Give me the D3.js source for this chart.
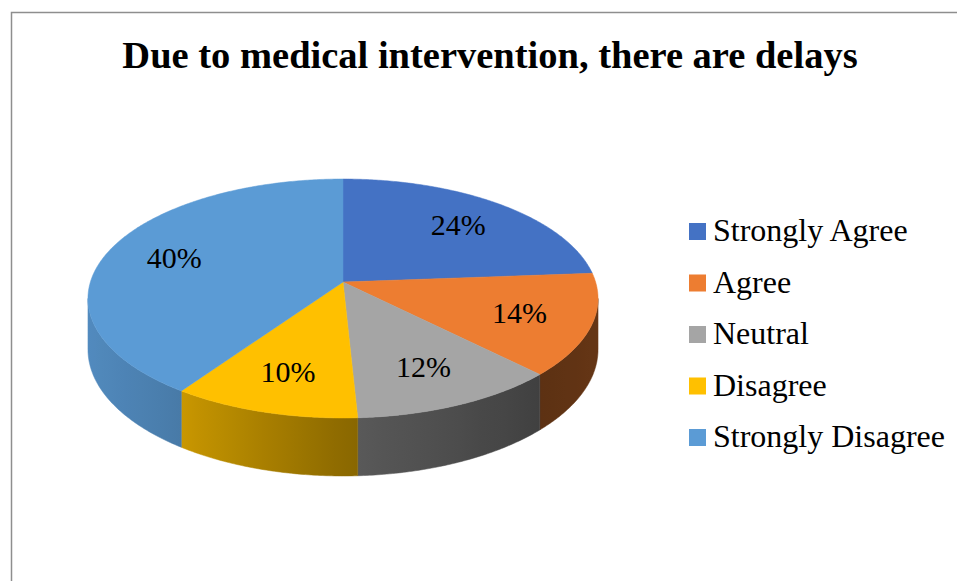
<!doctype html>
<html lang="en">
<head>
  <meta charset="utf-8">
  <title>Due to medical intervention, there are delays</title>
  <script src="https://d3js.org/d3.v7.min.js"></script>
  <style>
    body { margin: 0; background: #fff; }
    text { font-family: "Liberation Serif", "Times New Roman", serif; fill: #000; }
    .title { font-size: 38.5px; font-weight: bold; }
    .label { font-size: 30px; }
    .legend text { font-size: 32px; }
  </style>
</head>
<body>
<div id="chart"></div>
<script>
  // values (percent of responses)
  var categories = ["Strongly Agree", "Agree", "Neutral", "Disagree", "Strongly Disagree"];
  var shares = [23.8, 13.8, 11.6, 10.4, 40.4];
  var colors = ["#4472C4", "#ED7D31", "#A5A5A5", "#FFC000", "#5B9BD5"];

  var width = 957, height = 581;

  var svg = d3.select("#chart").append("svg")
    .attr("width", width)
    .attr("height", height);

  // chart frame (runs off the right and bottom of the picture)
  svg.append("rect")
    .attr("x", 11.5).attr("y", 12.5)
    .attr("width", 980).attr("height", 600)
    .attr("fill", "none")
    .attr("stroke", "#8e8e8e")
    .attr("stroke-width", 1.5);

  svg.append("text")
    .attr("class", "title")
    .attr("x", 490).attr("y", 68)
    .attr("text-anchor", "middle")
    .text("Due to medical intervention, there are delays");

  // tilted disc with a bit of perspective: front is nearer than back
  var cx = 343, cy = 282, persp = 0.138, depth = 50;
  var xs = d3.scaleLinear().domain([-1, 1]).range([cx - 252.6, cx + 252.6]);
  var ys = d3.scaleLinear().domain([-1, 1]).range([cy - 117.2, cy + 117.2]);

  function proj(a, r, drop) {
    var u = r * Math.sin(a), v = -r * Math.cos(a);
    var w = 1 - persp * v;
    return [xs(u / w), ys(v / w) + (drop ? depth / w : 0)];
  }

  function arcAngles(a0, a1) {
    var n = Math.max(2, Math.ceil((a1 - a0) / 0.01));
    return d3.range(n + 1).map(function(i) { return a0 + (a1 - a0) * i / n; });
  }

  var pie = d3.pie().sort(null).value(function(d) { return d; });
  var slices = pie(shares);
  var line = d3.line();

  // side shading depends on which way the wall faces
  var shade = d3.scaleLinear().domain([-1, -0.6, 0, 0.7, 1]).range([0.9, 0.8, 0.55, 0.39, 0.43]);
  function tone(c, f) {
    var col = d3.rgb(c);
    return d3.rgb(col.r * f, col.g * f, col.b * f).formatHex();
  }

  var defs = svg.append("defs");
  var sideFrom = Math.acos(-persp), sideTo = 2 * Math.PI - Math.acos(-persp);

  var sides = svg.append("g");
  slices.forEach(function(s, i) {
    var a0 = Math.max(s.startAngle, sideFrom), a1 = Math.min(s.endAngle, sideTo);
    if (a1 <= a0) return;
    var angs = arcAngles(a0, a1);
    var top = angs.map(function(a) { return proj(a, 1, false); });
    var bot = angs.map(function(a) { return proj(a, 1, true); }).reverse();
    var xMin = d3.min(top, function(p) { return p[0]; });
    var xMax = d3.max(top, function(p) { return p[0]; });
    var grad = defs.append("linearGradient")
      .attr("id", "side" + i)
      .attr("gradientUnits", "userSpaceOnUse")
      .attr("x1", xMin).attr("x2", xMax).attr("y1", 0).attr("y2", 0);
    d3.range(9).forEach(function(j) {
      var a = a1 - (a1 - a0) * j / 8;
      var p = proj(a, 1, false);
      grad.append("stop")
        .attr("offset", xMax > xMin ? (p[0] - xMin) / (xMax - xMin) : 0)
        .attr("stop-color", tone(colors[i], shade(Math.sin(a))));
    });
    sides.append("path")
      .attr("d", line(top.concat(bot)) + "Z")
      .attr("fill", "url(#side" + i + ")")
      .attr("stroke", "url(#side" + i + ")")
      .attr("stroke-width", 0.5);
  });

  var tops = svg.append("g");
  slices.forEach(function(s, i) {
    var pts = [proj(0, 0, false)].concat(arcAngles(s.startAngle, s.endAngle).map(function(a) {
      return proj(a, 1, false);
    }));
    tops.append("path")
      .attr("d", line(pts) + "Z")
      .attr("fill", colors[i])
      .attr("stroke", colors[i])
      .attr("stroke-width", 0.5);
  });

  var fmt = d3.format(".0%");
  svg.append("g").selectAll("text")
    .data(slices)
    .enter().append("text")
    .attr("class", "label")
    .attr("text-anchor", "middle")
    .attr("dy", "0.35em")
    .attr("x", function(d) { return proj((d.startAngle + d.endAngle) / 2, 0.72, false)[0]; })
    .attr("y", function(d) { return proj((d.startAngle + d.endAngle) / 2, 0.72, false)[1]; })
    .text(function(d) { return fmt(d.value / 100); });

  var legend = svg.append("g").attr("class", "legend")
    .attr("transform", "translate(689,223)");
  var rows = legend.selectAll("g")
    .data(categories)
    .enter().append("g")
    .attr("transform", function(d, i) { return "translate(0," + (i * 51.5) + ")"; });
  rows.append("rect")
    .attr("width", 17).attr("height", 17)
    .attr("fill", function(d, i) { return colors[i]; });
  rows.append("text")
    .attr("x", 24).attr("y", 18)
    .text(function(d) { return d; });
</script>
</body>
</html>
